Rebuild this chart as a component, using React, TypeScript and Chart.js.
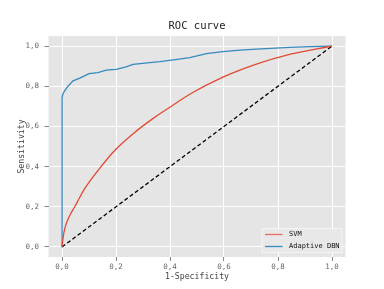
import React, { useEffect, useRef } from "react";
import { Chart, registerables } from "chart.js";

Chart.register(...registerables);

const tickValues = [0, 0.2, 0.4, 0.6, 0.8, 1.0];
const chartTitle = "ROC curve";

const svmFpr = [0, 0.004, 0.01, 0.02, 0.032, 0.047, 0.065, 0.084, 0.133, 0.195, 0.269, 0.343, 0.405, 0.473, 0.596, 0.72, 0.843, 0.93, 1.0];
const svmTpr = [0, 0.045, 0.09, 0.13, 0.165, 0.2, 0.245, 0.29, 0.38, 0.48, 0.57, 0.645, 0.7, 0.76, 0.845, 0.91, 0.958, 0.982, 1.0];

const dbnFpr = [0, 0, 0, 0.001, 0.004, 0.01, 0.022, 0.041, 0.066, 0.1, 0.133, 0.164, 0.2, 0.238, 0.263, 0.325, 0.362, 0.42, 0.473, 0.535, 0.596, 0.66, 0.72, 0.843, 0.92, 1.0];
const dbnTpr = [0, 0.4, 0.69, 0.744, 0.765, 0.777, 0.8, 0.827, 0.84, 0.863, 0.868, 0.88, 0.884, 0.896, 0.909, 0.917, 0.922, 0.932, 0.942, 0.962, 0.972, 0.98, 0.985, 0.993, 0.997, 1.0];

const diagX = [0, 1];
const diagY = [0, 1];

const seriesNames = ["SVM", "Adaptive DBN"];
const seriesColors = ["#E24A33", "#348ABD"];

const FONT = "'DejaVu Sans Mono', monospace";

const toPoints = (xs: number[], ys: number[]) => xs.map((x, i) => ({ x, y: ys[i] }));
const fmt = (v: number) => v.toFixed(1).replace(".", ",");

export default function App() {
  const ref = useRef<HTMLCanvasElement | null>(null);
  useEffect(() => {
    if (!ref.current) return;
    const bgPlugin = {
      id: "bg",
      beforeDraw(chart: any) {
        const { ctx, chartArea: a } = chart;
        ctx.save();
        ctx.fillStyle = "#E5E5E5";
        ctx.fillRect(a.left, a.top, a.right - a.left, a.bottom - a.top);
        ctx.fillStyle = "#222";
        ctx.font = `10.5px ${FONT}`;
        ctx.textAlign = "center";
        ctx.textBaseline = "middle";
        ctx.fillText(chartTitle, (a.left + a.right) / 2, 26);
        ctx.restore();
      },
    };
    const legendPlugin = {
      id: "customLegend",
      afterDraw(chart: any) {
        const { ctx, chartArea: a } = chart;
        const w = 80;
        const h = 24;
        const x = a.right - 4 - w;
        const y = a.bottom - 5 - h;
        ctx.save();
        ctx.fillStyle = "rgba(232,232,232,0.9)";
        ctx.strokeStyle = "rgba(245,245,245,1)";
        ctx.lineWidth = 1;
        ctx.beginPath();
        ctx.rect(x + 0.5, y + 0.5, w, h);
        ctx.fill();
        ctx.stroke();
        ctx.font = `7px ${FONT}`;
        ctx.textBaseline = "middle";
        ctx.textAlign = "left";
        seriesNames.forEach((name, i) => {
          const ly = y + 6.5 + i * 12;
          ctx.strokeStyle = seriesColors[i];
          ctx.globalAlpha = i === 0 ? 0.75 : 1;
          ctx.lineWidth = 1.3;
          ctx.beginPath();
          ctx.moveTo(x + 3.5, ly);
          ctx.lineTo(x + 21, ly);
          ctx.stroke();
          ctx.globalAlpha = 1;
          ctx.fillStyle = "#111";
          ctx.fillText(name, x + 27.5, ly);
        });
        ctx.restore();
      },
    };
    const chart = new Chart(ref.current, {
      type: "scatter",
      data: {
        datasets: [
          {
            label: seriesNames[0],
            data: toPoints(svmFpr, svmTpr),
            showLine: true,
            borderColor: seriesColors[0],
            borderWidth: 1.3,
            pointRadius: 0,
            cubicInterpolationMode: "monotone",
          },
          {
            label: seriesNames[1],
            data: toPoints(dbnFpr, dbnTpr),
            showLine: true,
            borderColor: seriesColors[1],
            borderWidth: 1.3,
            pointRadius: 0,
            tension: 0,
          },
          {
            label: "chance",
            data: toPoints(diagX, diagY),
            showLine: true,
            borderColor: "#000",
            borderWidth: 1.3,
            borderDash: [4, 2.5],
            pointRadius: 0,
          },
        ],
      },
      options: {
        responsive: false,
        animation: false,
        layout: { padding: { left: 0, right: 38.5, top: 36, bottom: 0 } },
        plugins: {
          legend: { display: false },
          tooltip: { enabled: false },
          title: { display: false },
        },
        scales: {
          x: {
            type: "linear",
            min: -0.05,
            max: 1.05,
            afterBuildTicks: (s: any) => {
              s.ticks = tickValues.map((v) => ({ value: v }));
            },
            afterFit: (s: any) => {
              s.height = 32;
            },
            ticks: {
              color: "#666",
              font: { family: FONT, size: 7.5 },
              padding: 2,
              maxRotation: 0,
              callback: (v: any) => fmt(Number(v)),
            },
            grid: { color: "#FFFFFF", lineWidth: 1, tickColor: "#888", tickLength: 4 },
            border: { display: false },
            title: {
              display: true,
              text: "1-Specificity",
              color: "#444",
              font: { family: FONT, size: 8.2 },
              padding: { top: 0, bottom: 7 },
            },
          },
          y: {
            type: "linear",
            min: -0.05,
            max: 1.05,
            afterBuildTicks: (s: any) => {
              s.ticks = tickValues.map((v) => ({ value: v }));
            },
            afterFit: (s: any) => {
              s.width = 48.5;
            },
            ticks: {
              color: "#666",
              font: { family: FONT, size: 7.5 },
              padding: 5.5,
              callback: (v: any) => fmt(Number(v)),
            },
            grid: { color: "#FFFFFF", lineWidth: 1, tickColor: "#888", tickLength: 4 },
            border: { display: false },
            title: {
              display: true,
              text: "Sensitivity",
              color: "#444",
              font: { family: FONT, size: 8.2 },
              padding: { top: 17, bottom: 0 },
            },
          },
        },
      },
      plugins: [bgPlugin, legendPlugin],
    } as any);
    return () => chart.destroy();
  }, []);
  return (
    <div style={{ position: "fixed", left: 0, top: 0, width: 384, height: 289, background: "#fff" }}>
      <canvas ref={ref} width={384} height={289} style={{ width: 384, height: 289 }} />
    </div>
  );
}
